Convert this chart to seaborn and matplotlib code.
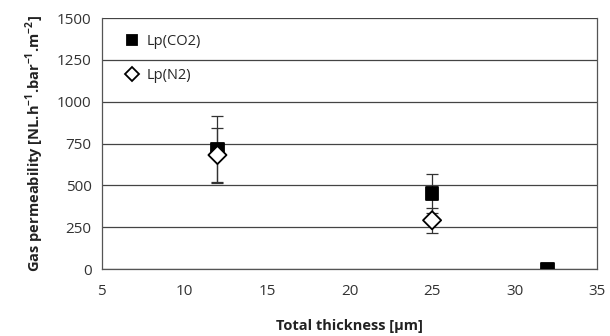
import numpy as np
import pandas as pd
import matplotlib
matplotlib.use("Agg")
import matplotlib.pyplot as plt
import seaborn as sns

# data
thickness_co2 = [12, 25, 32]
lp_co2 = [717, 452, 0]
err_co2 = [200, 115, 0]

thickness_n2 = [12, 25]
lp_n2 = [682, 292]
err_n2 = [160, 75]

df = pd.DataFrame({
    "thickness": thickness_co2 + thickness_n2,
    "lp": lp_co2 + lp_n2,
    "gas": ["Lp(CO2)"] * len(lp_co2) + ["Lp(N2)"] * len(lp_n2),
})

sns.set_style("white")
plt.rcParams["font.family"] = ["Open Sans", "DejaVu Sans"]

fig = plt.figure(figsize=(6.1, 3.36), dpi=100)
ax = fig.add_axes([0.167, 0.199, 0.812, 0.747])

# error bars first
ax.errorbar(thickness_co2, lp_co2, yerr=err_co2, fmt="none", ecolor="#333333",
            elinewidth=0.9, capsize=4, capthick=0.9, zorder=2)
ax.errorbar(thickness_n2, lp_n2, yerr=err_n2, fmt="none", ecolor="#333333",
            elinewidth=0.9, capsize=4, capthick=0.9, zorder=2)

sns.scatterplot(data=df, x="thickness", y="lp", hue="gas", style="gas",
                markers={"Lp(CO2)": "s", "Lp(N2)": "D"},
                palette={"Lp(CO2)": "black", "Lp(N2)": "white"},
                s=85, edgecolor="black", linewidth=1.3, zorder=3, ax=ax)

ax.set_xlim(5, 35)
ax.set_ylim(0, 1500)
ax.set_xticks(np.arange(5, 36, 5))
ax.set_yticks(np.arange(0, 1501, 250))
ax.yaxis.grid(True, color="#444444", linewidth=0.9)
ax.set_axisbelow(True)

for side in ["left", "bottom", "right"]:
    ax.spines[side].set_color("#555555")
    ax.spines[side].set_linewidth(0.9)
ax.spines["top"].set_visible(False)

ax.tick_params(axis="x", direction="inout", length=6, color="#555555",
               labelsize=11, labelcolor="#333333", pad=8)
ax.tick_params(axis="y", direction="out", length=4, color="#555555",
               labelsize=11, labelcolor="#333333")

ax.set_xlabel("Total thickness [µm]", fontsize=10.5, fontweight="bold",
              color="#222222", labelpad=14)
ax.set_ylabel("Gas permeability [NL.h$^{\\mathregular{-1}}$.bar$^{\\mathregular{-1}}$.m$^{\\mathregular{-2}}$]",
              fontsize=10.5, fontweight="bold", color="#222222", labelpad=8)

leg = ax.legend(loc="upper left", frameon=False, fontsize=10.5,
                handletextpad=0.0, labelspacing=1.3, borderaxespad=0.4,
                borderpad=0.7, markerscale=0.75)
for h in leg.legend_handles:
    h.set_linewidth(1.0)

fig.savefig("out.png", dpi=100)
